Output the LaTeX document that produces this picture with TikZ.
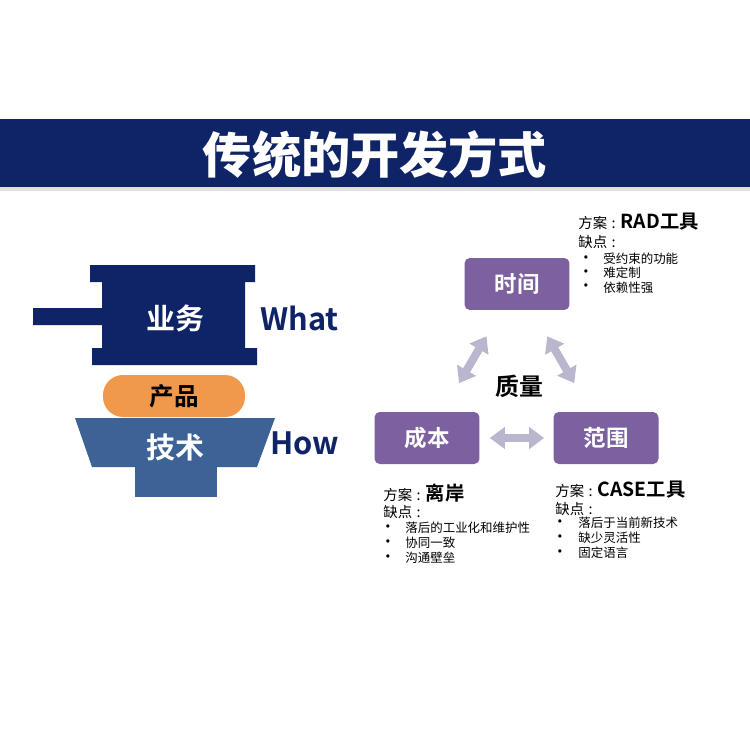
\documentclass[tikz,border=0pt]{standalone}
\usepackage{fontspec}
\setmainfont{Noto Sans CJK SC}[BoldFont={Noto Sans CJK SC Bold}]
\newfontfamily\heavyfont{Noto Sans CJK SC Black}
\usetikzlibrary{arrows.meta,positioning}
\definecolor{navy}{RGB}{14,36,102}
\definecolor{steel}{RGB}{60,98,150}
\definecolor{pumpkin}{RGB}{240,152,76}
\definecolor{violet}{RGB}{125,96,160}
\definecolor{lavender}{RGB}{186,182,206}
\newcommand\planhead[1]{方案\hspace{2.5pt}:\hspace{3pt}{\bfseries\fontsize{11}{12}\selectfont #1}}
\begin{document}
\begin{tikzpicture}[x=0.02cm,y=-0.02cm,
  box/.style={fill=violet,rounded corners=3pt,minimum width=2.1cm,minimum height=1.04cm,text=white,font=\bfseries\fontsize{12.8}{15}\selectfont},
  biarrow/.style={draw=lavender,line width=4.6pt,{Triangle[length=8.5pt,width=12pt]}-{Triangle[length=8.5pt,width=12pt]}},
  plan/.style={anchor=west,inner sep=0pt,font=\fontsize{8.2}{10}\selectfont},
  item/.style={anchor=west,inner sep=0pt,font=\fontsize{7.1}{9}\selectfont},
  dot/.style={anchor=west,inner sep=0pt,font=\bfseries\fontsize{7.5}{8}\selectfont}]
\useasboundingbox (0,0) rectangle (750,750);
\fill[white] (0,0) rectangle (750,750);
% title bar
\fill[black!12] (0,187) rectangle (750,191);
\fill[navy] (0,119) rectangle (750,187);
\node[text=white,font=\heavyfont\fontsize{28}{32}\selectfont] (title) at (375,155) {传统的开发方式};
% left: what / how
\fill[navy] (90,265) -- (255,265) -- (255,282) -- (245,282) -- (245,348) -- (257,348)
  -- (257,365) -- (92,365) -- (92,348) -- (102,348) -- (102,325) -- (33,325)
  -- (33,308) -- (102,308) -- (102,282) -- (90,282) -- cycle;
\fill[steel] (75,418) -- (275,418) -- (257,467) -- (92,467) -- cycle;
\fill[steel] (135,467) rectangle (217,497);
\node[fill=pumpkin,rounded corners=0.4cm,minimum width=2.84cm,minimum height=0.84cm,
  font=\bfseries\fontsize{14}{16}\selectfont] (product) at (174,396) {产品};
\node[text=white,font=\bfseries\fontsize{16.5}{18}\selectfont] (business) at (175,318) {业务};
\node[text=white,font=\bfseries\fontsize{16.5}{18}\selectfont] (tech) at (175,447) {技术};
\node[anchor=west,inner sep=0pt,text=navy,font=\bfseries\fontsize{17.5}{20}\selectfont] (what) at (260,318) {What};
\node[anchor=west,inner sep=0pt,text=navy,font=\bfseries\fontsize{17.5}{20}\selectfont] (how) at (270,443) {How};
% right: triangle
\node[box] (time) at (517,284) {时间};
\node[box] (cost) at (427,438) {成本};
\node[box] (scope) at (606,438) {范围};
\node[font=\bfseries\fontsize{13.6}{15}\selectfont] (quality) at (519,386) {质量};
\draw[biarrow,shorten <=0.66cm,shorten >=0.6cm] (cost) -- (time);
\draw[biarrow,shorten <=0.6cm,shorten >=0.66cm] (time) -- (scope);
\draw[biarrow,shorten <=0.2cm,shorten >=0.18cm] (cost) -- (scope);
% notes
\node[plan] (timeplan) at (578,222) {\planhead{RAD工具}};
\node[plan] (timecons) at (578,242) {缺点\hspace{2.5pt}:};
\foreach \txt [count=\i] in {受约束的功能,难定制,依赖性强}{
  \node[dot] (timedot\i) at (579,{244.5+14.3*\i}) {•};
  \node[item] (timeitem\i) at (603,{244.5+14.3*\i}) {\txt};
}
\node[plan] (costplan) at (383,493) {\planhead{离岸}};
\node[plan] (costcons) at (383,512) {缺点\hspace{2.5pt}:};
\foreach \txt [count=\i] in {落后的工业化和维护性,协同一致,沟通壁垒}{
  \node[dot] (costdot\i) at (381,{513+15*\i}) {•};
  \node[item] (costitem\i) at (405,{513+15*\i}) {\txt};
}
\node[plan] (scopeplan) at (555,490) {\planhead{CASE工具}};
\node[plan] (scopecons) at (555,509) {缺点\hspace{2.5pt}:};
\foreach \txt [count=\i] in {落后于当前新技术,缺少灵活性,固定语言}{
  \node[dot] (scopedot\i) at (553,{508+15*\i}) {•};
  \node[item] (scopeitem\i) at (578,{508+15*\i}) {\txt};
}
\end{tikzpicture}
\end{document}
